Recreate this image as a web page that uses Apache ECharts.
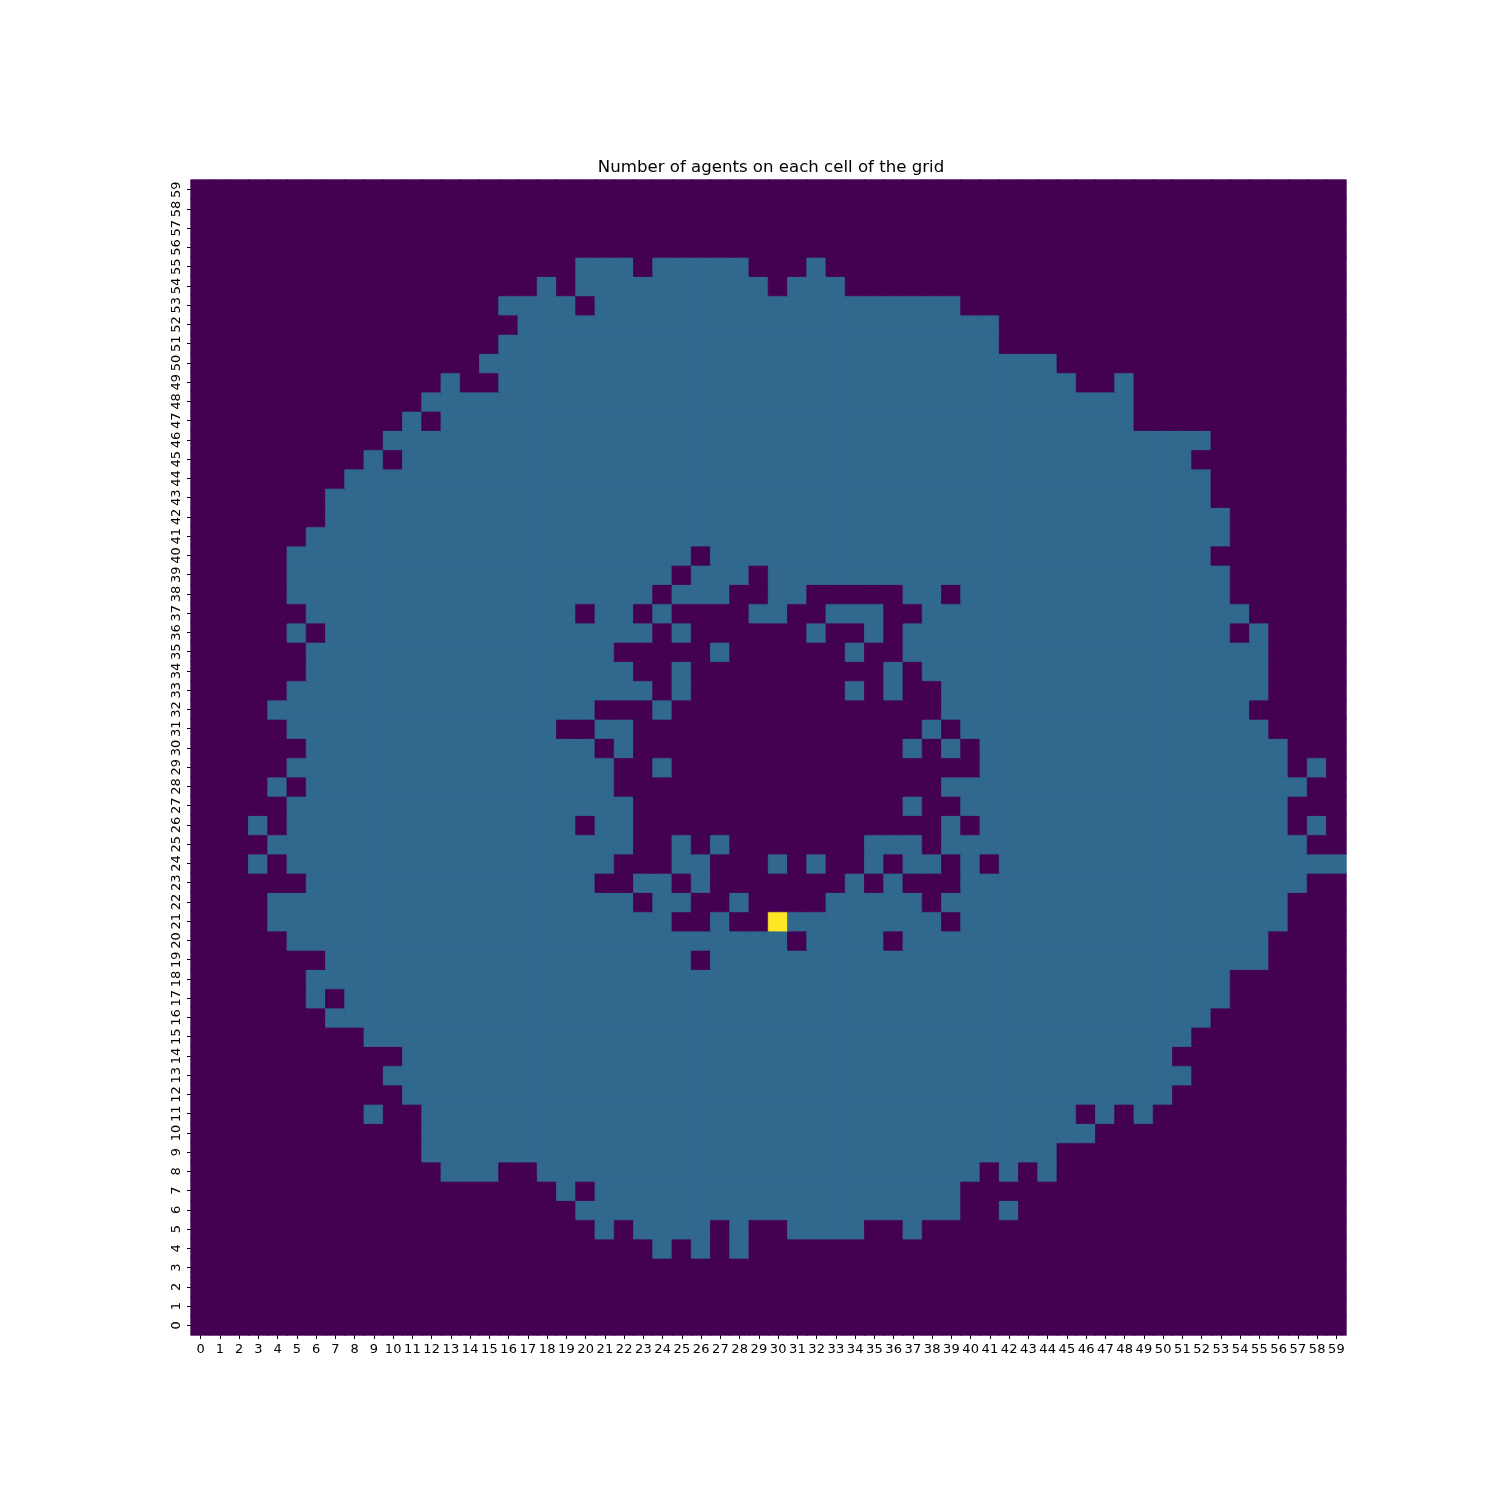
<!DOCTYPE html>
<html>
<head>
<meta charset="utf-8">
<script src="https://cdn.jsdelivr.net/npm/echarts@6/dist/echarts.min.js"></script>
<style>html,body{margin:0;padding:0;background:#fff}#chart{width:1500px;height:1500px}</style>
</head>
<body>
<div id="chart"></div>
<script>
// Grid size and tick labels
const xLabels = [];
const yLabels = [];
for (let i = 0; i < 60; i++) { xLabels.push(String(i)); yLabels.push(String(i)); }

// Cells with 1 agent, read row by row (index = y value), as inclusive column runs
const tealRuns = [
  /* 0 */ [],
  /* 1 */ [],
  /* 2 */ [],
  /* 3 */ [],
  /* 4 */ [[24,24],[26,26],[28,28]],
  /* 5 */ [[21,21],[23,26],[28,28],[31,34],[37,37]],
  /* 6 */ [[20,39],[42,42]],
  /* 7 */ [[19,19],[21,39]],
  /* 8 */ [[13,15],[18,40],[42,42],[44,44]],
  /* 9 */ [[12,44]],
  /* 10 */ [[12,46]],
  /* 11 */ [[9,9],[12,45],[47,47],[49,49]],
  /* 12 */ [[11,50]],
  /* 13 */ [[10,51]],
  /* 14 */ [[11,50]],
  /* 15 */ [[9,51]],
  /* 16 */ [[7,52]],
  /* 17 */ [[6,6],[8,53]],
  /* 18 */ [[6,53]],
  /* 19 */ [[7,25],[27,55]],
  /* 20 */ [[5,30],[32,35],[37,55]],
  /* 21 */ [[4,24],[27,27],[31,38],[40,56]],
  /* 22 */ [[4,22],[24,25],[28,28],[33,37],[39,56]],
  /* 23 */ [[6,20],[23,24],[26,26],[34,34],[36,36],[40,57]],
  /* 24 */ [[3,3],[5,21],[25,26],[30,30],[32,32],[35,35],[37,38],[40,40],[42,59]],
  /* 25 */ [[4,22],[25,25],[27,27],[35,37],[39,57]],
  /* 26 */ [[3,3],[5,19],[21,22],[39,39],[41,56],[58,58]],
  /* 27 */ [[5,22],[37,37],[40,56]],
  /* 28 */ [[4,4],[6,21],[39,57]],
  /* 29 */ [[5,21],[24,24],[41,56],[58,58]],
  /* 30 */ [[6,20],[22,22],[37,37],[39,39],[41,56]],
  /* 31 */ [[5,18],[21,22],[38,38],[40,55]],
  /* 32 */ [[4,20],[24,24],[39,54]],
  /* 33 */ [[5,23],[25,25],[34,34],[36,36],[39,55]],
  /* 34 */ [[6,22],[25,25],[36,36],[38,55]],
  /* 35 */ [[6,21],[27,27],[34,34],[37,55]],
  /* 36 */ [[5,5],[7,23],[25,25],[32,32],[35,35],[37,53],[55,55]],
  /* 37 */ [[6,19],[21,22],[24,24],[29,30],[33,35],[38,54]],
  /* 38 */ [[5,23],[25,27],[30,31],[37,38],[40,53]],
  /* 39 */ [[5,24],[26,28],[30,53]],
  /* 40 */ [[5,25],[27,52]],
  /* 41 */ [[6,53]],
  /* 42 */ [[7,53]],
  /* 43 */ [[7,52]],
  /* 44 */ [[8,52]],
  /* 45 */ [[9,9],[11,51]],
  /* 46 */ [[10,52]],
  /* 47 */ [[11,11],[13,48]],
  /* 48 */ [[12,48]],
  /* 49 */ [[13,13],[16,45],[48,48]],
  /* 50 */ [[15,44]],
  /* 51 */ [[16,41]],
  /* 52 */ [[17,41]],
  /* 53 */ [[16,19],[21,39]],
  /* 54 */ [[18,18],[20,29],[31,33]],
  /* 55 */ [[20,22],[24,28],[32,32]],
  /* 56 */ [],
  /* 57 */ [],
  /* 58 */ [],
  /* 59 */ []
];

// Cells with a higher count: [x, y, value]
const highCells = [[30, 21, 3]];

// Colour for each count (viridis, scale 0..3)
const countColors = {0: '#440154', 1: '#31688e', 3: '#fde725'};

// Build the [x, y, value] table
const data = [];
for (let y = 0; y < 60; y++) {
  const row = new Array(60).fill(0);
  tealRuns[y].forEach(([a, b]) => { for (let x = a; x <= b; x++) row[x] = 1; });
  highCells.forEach(([hx, hy, v]) => { if (hy === y) row[hx] = v; });
  for (let x = 0; x < 60; x++) {
    // thin border in the cell's own colour hides antialiasing seams between cells
    data.push({value: [x, y, row[x]], itemStyle: {borderColor: countColors[row[x]], borderWidth: 0.8}});
  }
}

const chart = echarts.init(document.getElementById('chart'), null, {renderer: 'canvas'});
chart.setOption({
  animation: false,
  backgroundColor: '#ffffff',
  title: {
    text: 'Number of agents on each cell of the grid',
    left: 766,
    textAlign: 'center',
    top: 154,
    textStyle: {fontFamily: 'DejaVu Sans', fontSize: 16.6, fontWeight: 'normal', color: '#000'}
  },
  grid: {left: 191, right: 154, top: 180, bottom: 165, containLabel: false},
  xAxis: {
    type: 'category',
    data: xLabels,
    splitArea: {show: false},
    splitLine: {show: false},
    axisLine: {show: false},
    axisTick: {show: true, alignWithLabel: true, interval: 0, length: 4, lineStyle: {color: '#000'}},
    axisLabel: {interval: 0, fontFamily: 'DejaVu Sans', fontSize: 13, color: '#000', margin: 8}
  },
  yAxis: {
    type: 'category',
    data: yLabels,
    splitArea: {show: false},
    splitLine: {show: false},
    axisLine: {show: false},
    axisTick: {show: true, alignWithLabel: true, interval: 0, length: 4, lineStyle: {color: '#000'}},
    axisLabel: {interval: 0, rotate: 90, fontFamily: 'DejaVu Sans', fontSize: 13, color: '#000', margin: 8}
  },
  visualMap: {
    type: 'piecewise',
    show: false,
    dimension: 2,
    pieces: [
      {value: 0, color: countColors[0]},
      {value: 1, color: countColors[1]},
      {value: 3, color: countColors[3]}
    ]
  },
  series: [{
    type: 'heatmap',
    data: data,
    emphasis: {disabled: true},
    progressive: 0
  }]
});
</script>
</body>
</html>
